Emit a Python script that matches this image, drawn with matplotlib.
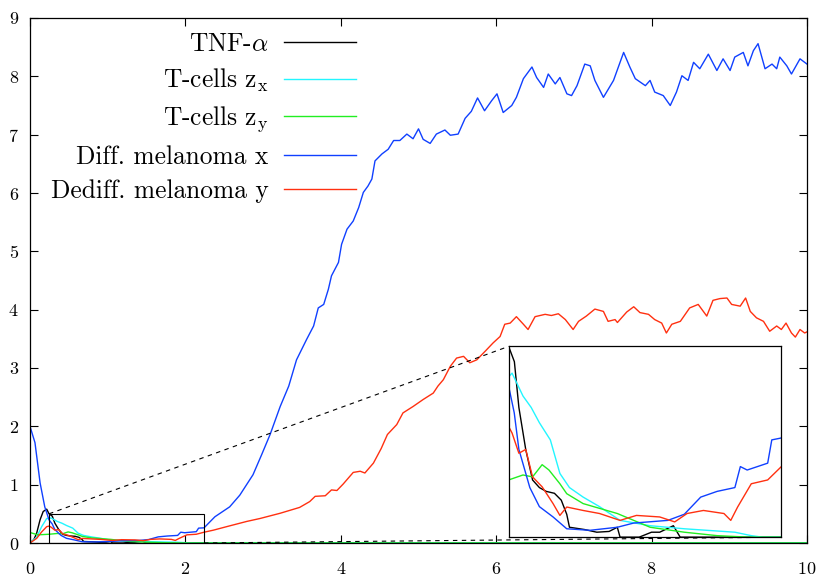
import matplotlib
matplotlib.use('Agg')
import matplotlib.pyplot as plt
from matplotlib.patches import Rectangle

plt.rcParams['font.family'] = 'cmr10'
plt.rcParams['mathtext.fontset'] = 'cm'
plt.rcParams['axes.formatter.use_mathtext'] = True

# TNF-alpha
tnf_t = [0, 0.05, 0.086, 0.13, 0.17, 0.215, 0.245, 0.287, 0.32, 0.37, 0.42, 0.47, 0.52,
         0.58, 0.63, 0.67, 0.69, 0.8, 0.89, 0.98, 1.04, 1.06, 1.2, 1.29, 1.35, 1.45, 1.5,
         1.7, 2.0, 10.0]
tnf_v = [0, 0.06, 0.17, 0.40, 0.54, 0.58, 0.50, 0.46, 0.34, 0.23, 0.15, 0.13, 0.12,
         0.115, 0.097, 0.06, 0.026, 0.02, 0.013, 0.015, 0.026, 0.0, 0.0, 0.013, 0.013, 0.03, 0.0,
         0.0, 0.0, 0.0]

# T-cells z_x
zx_t = [0, 0.086, 0.15, 0.215, 0.245, 0.27, 0.35, 0.41, 0.47, 0.55, 0.62, 0.69, 0.79,
        0.91, 1.06, 1.28, 1.53, 1.9, 2.02, 2.1, 10.0]
zx_v = [0, 0.10, 0.28, 0.42, 0.42, 0.43, 0.37, 0.34, 0.30, 0.255, 0.167, 0.13, 0.105,
        0.08, 0.044, 0.03, 0.022, 0.013, 0.004, 0.0, 0.0]

# T-cells z_y
zy_t = [0, 0.1, 0.245, 0.35, 0.42, 0.49, 0.54, 0.62, 0.67, 0.79, 1.04, 1.28, 1.53,
        1.77, 2.0, 10.0]
zy_v = [0.18, 0.14, 0.15, 0.163, 0.158, 0.19, 0.176, 0.14, 0.114, 0.088, 0.062, 0.026, 0.013,
        0.004, 0.0, 0.0]

# Differentiated melanoma x
mx_t = [0, 0.064, 0.13, 0.19, 0.245, 0.286, 0.32, 0.40, 0.47, 0.57, 0.67, 0.84, 1.04,
        1.16, 1.41, 1.53, 1.65, 1.77, 1.9, 1.94, 1.99, 2.14, 2.17, 2.24,
        2.38, 2.57, 2.70, 2.87, 2.98, 3.09, 3.22, 3.33, 3.43, 3.56, 3.65, 3.71, 3.78,
        3.84, 3.88, 3.97, 4.01, 4.08, 4.16, 4.23, 4.29, 4.35, 4.40, 4.44, 4.53, 4.61,
        4.68, 4.76, 4.85, 4.93, 5.00, 5.06, 5.15, 5.23, 5.34, 5.41, 5.51, 5.53, 5.60,
        5.68, 5.76, 5.85, 5.94, 6.01, 6.09, 6.20, 6.26, 6.35, 6.46, 6.52, 6.61, 6.67,
        6.76, 6.82, 6.91, 6.97, 7.04, 7.14, 7.21, 7.27, 7.38, 7.51, 7.64, 7.72, 7.79,
        7.92, 7.98, 8.04, 8.15, 8.24, 8.32, 8.39, 8.47, 8.54, 8.62, 8.73, 8.84, 8.92,
        9.01, 9.07, 9.18, 9.24, 9.31, 9.37, 9.46, 9.55, 9.61, 9.65, 9.74, 9.80, 9.91,
        10.0]
mx_v = [2.0, 1.72, 1.03, 0.62, 0.396, 0.326, 0.23, 0.13, 0.08, 0.053, 0.022, 0.018, 0.026,
        0.037, 0.044, 0.06, 0.105, 0.12, 0.13, 0.185, 0.176, 0.194, 0.255, 0.26,
        0.45, 0.62, 0.82, 1.17, 1.51, 1.86, 2.34, 2.69, 3.14, 3.49, 3.72, 4.03, 4.09,
        4.35, 4.58, 4.81, 5.12, 5.38, 5.52, 5.75, 6.01, 6.12, 6.24, 6.55, 6.67, 6.75,
        6.90, 6.90, 7.01, 6.93, 7.10, 6.92, 6.85, 7.01, 7.08, 6.99, 7.01, 7.07, 7.28,
        7.40, 7.63, 7.41, 7.58, 7.70, 7.38, 7.50, 7.64, 7.96, 8.16, 7.98, 7.81, 8.04,
        7.87, 7.98, 7.70, 7.67, 7.84, 8.21, 8.18, 7.93, 7.64, 7.93, 8.41, 8.16, 7.96,
        7.84, 7.93, 7.73, 7.67, 7.50, 7.73, 8.01, 7.93, 8.24, 8.13, 8.38, 8.10, 8.30,
        8.10, 8.33, 8.41, 8.18, 8.44, 8.56, 8.13, 8.21, 8.13, 8.33, 8.18, 8.04, 8.30,
        8.21]

# Dedifferentiated melanoma y
my_t = [0, 0.086, 0.15, 0.215, 0.245, 0.27, 0.32, 0.37, 0.42, 0.49, 0.57, 0.62, 0.67,
        0.79, 0.91, 1.06, 1.18, 1.35, 1.46, 1.55, 1.67, 1.82, 1.87, 1.92, 2.02, 2.14,
        2.24, 2.36, 2.53, 2.79, 2.96, 3.22, 3.47, 3.60, 3.67, 3.80, 3.88, 3.95, 4.03,
        4.16, 4.25, 4.31, 4.42, 4.52, 4.60, 4.72, 4.80, 4.93, 5.06, 5.19, 5.25, 5.32,
        5.41, 5.49, 5.58, 5.66, 5.75, 5.86, 5.96, 6.05, 6.11, 6.18, 6.26, 6.35, 6.41,
        6.50, 6.63, 6.71, 6.80, 6.89, 6.99, 7.06, 7.16, 7.27, 7.38, 7.44, 7.53, 7.56,
        7.68, 7.77, 7.85, 7.96, 8.04, 8.13, 8.19, 8.26, 8.37, 8.49, 8.60, 8.71, 8.79,
        8.88, 8.97, 9.03, 9.14, 9.21, 9.27, 9.35, 9.44, 9.52, 9.61, 9.67, 9.73, 9.80,
        9.85, 9.91, 9.97, 10.0]
my_v = [0, 0.08, 0.19, 0.28, 0.29, 0.273, 0.22, 0.23, 0.158, 0.132, 0.088, 0.057, 0.079,
        0.07, 0.062, 0.044, 0.057, 0.053, 0.04, 0.062, 0.07, 0.062, 0.044, 0.079, 0.14, 0.15,
        0.185, 0.22, 0.28, 0.37, 0.42, 0.51, 0.61, 0.71, 0.80, 0.81, 0.91, 0.90, 1.01,
        1.21, 1.23, 1.20, 1.37, 1.62, 1.86, 2.03, 2.23, 2.34, 2.46, 2.57, 2.69, 2.80,
        3.03, 3.17, 3.20, 3.09, 3.14, 3.29, 3.43, 3.54, 3.75, 3.77, 3.88, 3.75, 3.66,
        3.88, 3.92, 3.90, 3.93, 3.83, 3.66, 3.80, 3.89, 4.01, 3.97, 3.80, 3.83, 3.78,
        3.96, 4.05, 3.95, 3.92, 3.83, 3.77, 3.60, 3.75, 3.80, 4.03, 4.09, 3.89, 4.16,
        4.19, 4.20, 4.09, 4.06, 4.20, 3.97, 3.86, 3.80, 3.63, 3.72, 3.66, 3.77, 3.60,
        3.53, 3.66, 3.60, 3.62]

series = [
    (tnf_t, tnf_v, r'TNF-$\alpha$', 'black'),
    (zx_t, zx_v, r'T-cells z$_{\rm x}$', '#22f6ff'),
    (zy_t, zy_v, r'T-cells z$_{\rm y}$', '#22ee22'),
    (mx_t, mx_v, 'Diff. melanoma x', '#1040ff'),
    (my_t, my_v, 'Dediff. melanoma y', '#ff3010'),
]

zoom_x = (0.245, 2.24)
zoom_y = (0.0, 0.5)
inset_x = (6.16, 9.67)
inset_y = (0.10, 3.37)

fig = plt.figure(figsize=(8.19, 5.8), dpi=100)
ax = fig.add_axes([30 / 819, 37 / 580, 777 / 819, 525 / 580])

for t, v, lab, col in series:
    ax.plot(t, v, color=col, lw=1.0, label=lab)

ax.set_xlim(0, 10)
ax.set_ylim(0, 9)
ax.set_xticks(range(0, 11, 2))
ax.set_yticks(range(0, 10))
ax.tick_params(direction='in', top=True, right=True, length=6, width=0.8, labelsize=13)
ax.tick_params(axis='x', pad=13)
ax.tick_params(axis='y', pad=8)
for s in ax.spines.values():
    s.set_linewidth(0.9)

# zoom box and connectors
ax.add_patch(Rectangle((zoom_x[0], zoom_y[0]), zoom_x[1] - zoom_x[0], zoom_y[1] - zoom_y[0],
                       fill=False, ec='black', lw=0.8, zorder=3))
ax.plot([zoom_x[0], inset_x[0]], [zoom_y[1], inset_y[1]], color='black', lw=0.8,
        ls='--', dashes=(4, 4), zorder=3)
ax.plot([zoom_x[1], inset_x[1]], [zoom_y[0], inset_y[0]], color='black', lw=0.8,
        ls='--', dashes=(4, 4), zorder=3)

axin = ax.inset_axes([inset_x[0], inset_y[0], inset_x[1] - inset_x[0], inset_y[1] - inset_y[0]],
                     transform=ax.transData)
for t, v, lab, col in series:
    axin.plot(t, v, color=col, lw=1.0)
axin.set_xlim(*zoom_x)
axin.set_ylim(*zoom_y)
axin.set_xticks([])
axin.set_yticks([])
for s in axin.spines.values():
    s.set_linewidth(0.9)

ax.legend(loc='upper right', bbox_to_anchor=(356 / 819, 1 - 32 / 580),
          bbox_transform=fig.transFigure, frameon=False, markerfirst=False,
          fontsize=18.3, handlelength=2.85, handletextpad=0.6, labelspacing=0.42,
          borderpad=0, borderaxespad=0)

fig.savefig('out.png', dpi=100)
